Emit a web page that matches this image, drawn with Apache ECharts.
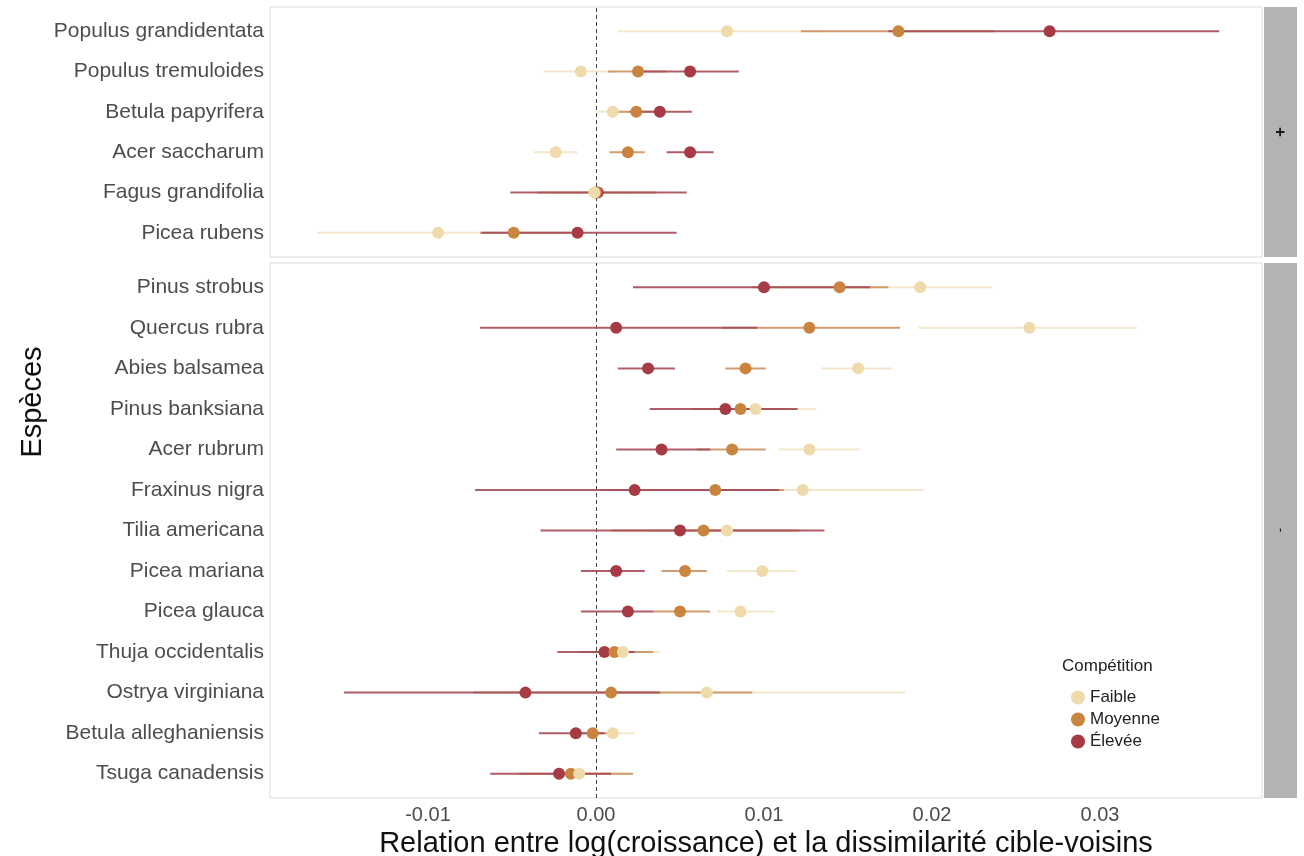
<!DOCTYPE html>
<html>
<head>
<meta charset="utf-8">
<script src="https://cdn.jsdelivr.net/npm/echarts@6/dist/echarts.min.js"></script>
<style>html,body{margin:0;padding:0;background:#fff;}#c{width:1304px;height:856px;}</style>
</head>
<body>
<div id="c"></div>
<script>
// ---- data ----
const speciesTop = ["Populus grandidentata","Populus tremuloides","Betula papyrifera","Acer saccharum","Fagus grandifolia","Picea rubens"];
const speciesBottom = ["Pinus strobus","Quercus rubra","Abies balsamea","Pinus banksiana","Acer rubrum","Fraxinus nigra","Tilia americana","Picea mariana","Picea glauca","Thuja occidentalis","Ostrya virginiana","Betula alleghaniensis","Tsuga canadensis"];
const levels = ["Faible","Moyenne","Élevée"];
const panelLabels = ["+","-"];
const xTicks = [-0.01, 0.00, 0.01, 0.02, 0.03];

// top panel (+)
const faibleTopEst = [0.0078,-0.0009,0.0010,-0.0024,-0.0001,-0.0094];
const faibleTopLo  = [0.0013,-0.0031,0.0001,-0.0037,-0.0027,-0.0166];
const faibleTopHi  = [0.0136, 0.0011,0.0020,-0.0011,0.0024,-0.0068];
const moyTopEst = [0.0180,0.0025,0.0024,0.0019,0.0000,-0.0049];
const moyTopLo  = [0.0122,0.0007,0.0009,0.0008,-0.0035,-0.0069];
const moyTopHi  = [0.0237,0.0042,0.0039,0.0029,0.0036,-0.0015];
const elevTopEst = [0.0270,0.0056,0.0038,0.0056,0.0001,-0.0011];
const elevTopLo  = [0.0174,0.0026,0.0020,0.0042,-0.0051,-0.0068];
const elevTopHi  = [0.0371,0.0085,0.0057,0.0070,0.0054,0.0048];

// bottom panel (-)
const faibleBotEst = [0.0193,0.0258,0.0156,0.0095,0.0127,0.0123,0.0078,0.0099,0.0086,0.0016,0.0066,0.0010,-0.0010];
const faibleBotLo  = [0.0142,0.0192,0.0134,0.0065,0.0109,0.0060,0.0033,0.0078,0.0072,-0.0005,0.0005,0.0000,-0.0038];
const faibleBotHi  = [0.0236,0.0322,0.0176,0.0131,0.0157,0.0195,0.0125,0.0119,0.0106,0.0038,0.0184,0.0023,0.0022];
const moyBotEst = [0.0145,0.0127,0.0089,0.0086,0.0081,0.0071,0.0064,0.0053,0.0050,0.0011,0.0009,-0.0002,-0.0015];
const moyBotLo  = [0.0093,0.0075,0.0077,0.0057,0.0060,0.0003,0.0009,0.0039,0.0034,-0.0009,-0.0073,-0.0014,-0.0046];
const moyBotHi  = [0.0174,0.0181,0.0101,0.0115,0.0101,0.0112,0.0121,0.0066,0.0068,0.0034,0.0093,0.0010,0.0022];
const elevBotEst = [0.0100,0.0012,0.0031,0.0077,0.0039,0.0023,0.0050,0.0012,0.0019,0.0005,-0.0042,-0.0012,-0.0022];
const elevBotLo  = [0.0022,-0.0069,0.0013,0.0032,0.0012,-0.0072,-0.0033,-0.0009,-0.0009,-0.0023,-0.0150,-0.0034,-0.0063];
const elevBotHi  = [0.0163,0.0096,0.0047,0.0120,0.0068,0.0109,0.0136,0.0029,0.0034,0.0023,0.0038,0.0005,0.0009];

const pointColors = {"Faible":"#EFDAAB","Moyenne":"#C98540","Élevée":"#A63A45"};
const lineColors  = {"Faible":"#F2E4C6","Moyenne":"#CC9160","Élevée":"#A44C57"};

// ---- build ----
const panels = [
  {names: speciesTop, sets: {"Faible":[faibleTopEst,faibleTopLo,faibleTopHi],"Moyenne":[moyTopEst,moyTopLo,moyTopHi],"Élevée":[elevTopEst,elevTopLo,elevTopHi]}},
  {names: speciesBottom, sets: {"Faible":[faibleBotEst,faibleBotLo,faibleBotHi],"Moyenne":[moyBotEst,moyBotLo,moyBotHi],"Élevée":[elevBotEst,elevBotLo,elevBotHi]}}
];

const XMIN = -0.019405, XMAX = 0.039643;
const FONT = 'Liberation Sans, Arial, sans-serif';
const grids = [
  {left:270, top:7, width:992, height:250, show:true, borderColor:'#dcdcdc', borderWidth:1, backgroundColor:'#fff', outerBoundsMode:'none', containLabel:false},
  {left:270, top:263, width:992, height:535, show:true, borderColor:'#dcdcdc', borderWidth:1, backgroundColor:'#fff', outerBoundsMode:'none', containLabel:false}
];
const xAxes = panels.map((p,i)=>({
  type:'value', gridIndex:i, min:XMIN, max:XMAX,
  splitLine:{show:false}, axisLine:{show:false}, axisTick:{show:false},
  axisLabel: i===1 ? {customValues:xTicks, formatter:v=>v.toFixed(2), color:'#4d4d4d', fontSize:20, fontFamily:FONT, margin:7} : {show:false},
  name: i===1 ? 'Relation entre log(croissance) et la dissimilarité cible-voisins' : '',
  nameLocation:'middle', nameGap:27,
  nameTextStyle:{fontSize:29, color:'#111', fontFamily:FONT}
}));
const yAxes = panels.map((p,i)=>{
  const n = p.names.length;
  return {
    type:'value', gridIndex:i, min:0.4, max:n+0.6,
    splitLine:{show:false}, axisLine:{show:false}, axisTick:{show:false},
    axisLabel:{customValues:p.names.map((_,k)=>n-k), formatter:v=>p.names[n-Math.round(v)], color:'#4d4d4d', fontSize:21, fontFamily:FONT, margin:6}
  };
});

const series = [];
panels.forEach((p,i)=>{
  const n = p.names.length;
  levels.forEach((lv,li)=>{
    const [est,lo,hi] = p.sets[lv];
    const s = {
      type:'custom', name:'ic_'+lv, xAxisIndex:i, yAxisIndex:i, z:2,
      encode:{x:[0,1], y:2},
      data: est.map((e,k)=>[lo[k], hi[k], n-k]),
      renderItem:(params, api)=>{
        const a = api.coord([api.value(0), api.value(2)]);
        const b = api.coord([api.value(1), api.value(2)]);
        return {type:'line', shape:{x1:a[0],y1:a[1],x2:b[0],y2:b[1]}, style:{stroke:lineColors[lv], lineWidth:2, opacity:0.9}};
      },
      silent:true
    };
    if (li===0) {
      s.markLine = {silent:true, symbol:['none','none'], label:{show:false}, z:1,
        lineStyle:{type:[4,3], color:'#444', width:1}, data:[{xAxis:0}]};
    }
    series.push(s);
  });
  ["Élevée","Moyenne","Faible"].forEach(lv=>{
    const [est] = p.sets[lv];
    series.push({
      type:'scatter', name:lv, xAxisIndex:i, yAxisIndex:i, z:3,
      symbol:'circle', symbolSize:12,
      itemStyle:{color:pointColors[lv], opacity:1},
      data: est.map((e,k)=>[e, n-k])
    });
  });
});

const chart = echarts.init(document.getElementById('c'), null, {renderer:'canvas'});
chart.setOption({
  animation:false,
  backgroundColor:'#fff',
  grid:grids, xAxis:xAxes, yAxis:yAxes, series:series,
  legend:{
    data:levels, orient:'vertical', left:1066, top:684, itemGap:5,
    icon:'circle', itemWidth:14, itemHeight:14,
    textStyle:{fontSize:17, color:'#222', fontFamily:FONT}
  },
  graphic:[
    {type:'rect', shape:{x:1264, y:7, width:33, height:250}, style:{fill:'#b3b3b3'}, silent:true},
    {type:'rect', shape:{x:1264, y:263, width:33, height:535}, style:{fill:'#b3b3b3'}, silent:true},
    {type:'text', x:1280, y:132, rotation:-Math.PI/2, style:{text:panelLabels[0], fill:'#1a1a1a', font:'bold 17px Liberation Sans, Arial', align:'center', verticalAlign:'middle'}},
    {type:'text', x:1280, y:530, rotation:-Math.PI/2, style:{text:panelLabels[1], fill:'#1a1a1a', font:'14px Liberation Sans, Arial', align:'center', verticalAlign:'middle'}},
    {type:'text', x:33, y:402, rotation:Math.PI/2, style:{text:'Espèces', fill:'#111', font:'29px Liberation Sans, Arial', align:'center', verticalAlign:'middle'}},
    {type:'text', x:1062, y:666, style:{text:'Compétition', fill:'#222', font:'17px Liberation Sans, Arial', align:'left', verticalAlign:'middle'}}
  ]
});
</script>
</body>
</html>
